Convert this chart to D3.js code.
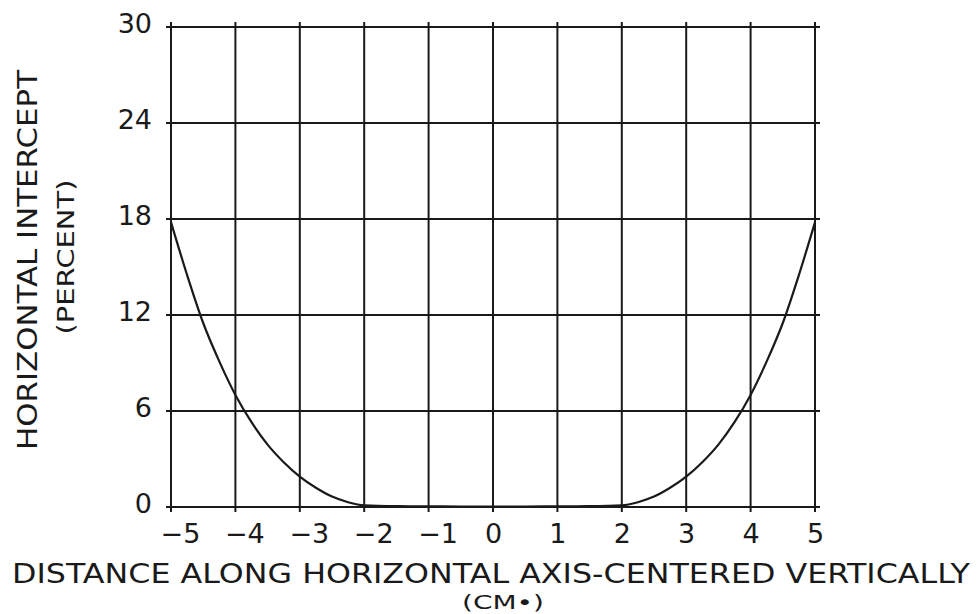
<!DOCTYPE html>
<html>
<head>
<meta charset="utf-8">
<title>Horizontal intercept</title>
<script src="https://d3js.org/d3.v7.min.js"></script>
<style>
  body { margin: 0; background: #fff; }
  text { font-family: "DejaVu Sans", sans-serif; fill: #1a1a1a; }
</style>
</head>
<body>
<svg id="chart" width="977" height="614"></svg>
<script>
    // distance along horizontal axis (cm) and horizontal intercept (percent)
    var distance = [-5, -4.75, -4.5, -4.25, -4, -3.75, -3.5, -3.25, -3, -2.75, -2.5, -2.25, -2, -1.5, -1, -0.5, 0,
                    0.5, 1, 1.5, 2, 2.25, 2.5, 2.75, 3, 3.25, 3.5, 3.75, 4, 4.25, 4.5, 4.75, 5];
    var intercept = [17.8, 14.5, 11.5, 9.1, 7.0, 5.3, 3.9, 2.8, 1.9, 1.2, 0.65, 0.3, 0.1, 0.05, 0.04, 0.03, 0.03,
                     0.03, 0.04, 0.05, 0.1, 0.3, 0.65, 1.2, 1.9, 2.8, 3.9, 5.3, 7.0, 9.1, 11.5, 14.5, 17.8];
    var xTicks = [-5, -4, -3, -2, -1, 0, 1, 2, 3, 4, 5];
    var yTicks = [0, 6, 12, 18, 24, 30];

    var data = distance.map((d, i) => ({x: d, y: intercept[i]}));

    var svg = d3.select("#chart"),
        margin = {top: 27, right: 162, bottom: 107, left: 171},
        width = +svg.attr("width"),
        height = +svg.attr("height");

    var x = d3.scaleLinear()
        .domain([-5, 5])
        .range([margin.left, width - margin.right]);

    var y = d3.scaleLinear()
        .domain([0, 30])
        .range([height - margin.bottom, margin.top]);

    var ink = "#1a1a1a";

    // grid with small tick crosses at the border
    var grid = svg.append("g")
        .attr("stroke", ink)
        .attr("stroke-width", 2);

    grid.selectAll(".vline")
        .data(xTicks)
        .join("line")
        .attr("class", "vline")
        .attr("x1", d => x(d)).attr("x2", d => x(d))
        .attr("y1", y(30) - 5).attr("y2", y(0) + 5);

    grid.selectAll(".hline")
        .data(yTicks)
        .join("line")
        .attr("class", "hline")
        .attr("y1", d => y(d)).attr("y2", d => y(d))
        .attr("x1", x(-5) - 5).attr("x2", x(5) + 5);

    // tick labels via d3 axes, domain and tick lines hidden
    var xAxis = svg.append("g")
        .attr("transform", `translate(0,${y(0)})`)
        .call(d3.axisBottom(x).tickValues(xTicks).tickSize(0).tickPadding(17)
            .tickFormat(d => d < 0 ? "\u2212" + Math.abs(d) : d));
    xAxis.select(".domain").remove();
    xAxis.selectAll("text")
        .attr("font-size", 27)
        .attr("font-family", null)
        .attr("fill", null)
        .attr("dy", "0.71em")
        .attr("dx", d => d < 0 ? 9 : 0);

    var yAxis = svg.append("g")
        .attr("transform", `translate(${x(-5)},0)`)
        .call(d3.axisLeft(y).tickValues(yTicks).tickSize(0).tickPadding(19));
    yAxis.select(".domain").remove();
    yAxis.selectAll("text")
        .attr("font-size", 27)
        .attr("font-family", null)
        .attr("fill", null)
        .attr("dy", "0.2em");

    var line = d3.line()
        .curve(d3.curveMonotoneX)
        .x(d => x(d.x))
        .y(d => y(d.y));

    svg.append("path")
        .datum(data)
        .attr("fill", "none")
        .attr("stroke", ink)
        .attr("stroke-width", 2.2)
        .attr("d", line);

    // titles
    svg.append("text")
        .attr("x", 491).attr("y", 583)
        .attr("text-anchor", "middle")
        .attr("font-size", 26)
        .attr("textLength", 958)
        .attr("lengthAdjust", "spacingAndGlyphs")
        .text("DISTANCE ALONG HORIZONTAL AXIS-CENTERED VERTICALLY");

    svg.append("text")
        .attr("x", 503).attr("y", 609)
        .attr("text-anchor", "middle")
        .attr("font-size", 20)
        .attr("textLength", 82)
        .attr("lengthAdjust", "spacingAndGlyphs")
        .text("(CM\u2022)");

    svg.append("text")
        .attr("transform", "translate(37,260) rotate(-90)")
        .attr("text-anchor", "middle")
        .attr("font-size", 26)
        .attr("textLength", 380)
        .attr("lengthAdjust", "spacingAndGlyphs")
        .text("HORIZONTAL INTERCEPT");

    svg.append("text")
        .attr("transform", "translate(74,257) rotate(-90)")
        .attr("text-anchor", "middle")
        .attr("font-size", 23)
        .attr("textLength", 155)
        .attr("lengthAdjust", "spacingAndGlyphs")
        .text("(PERCENT)");
</script>
</body>
</html>
